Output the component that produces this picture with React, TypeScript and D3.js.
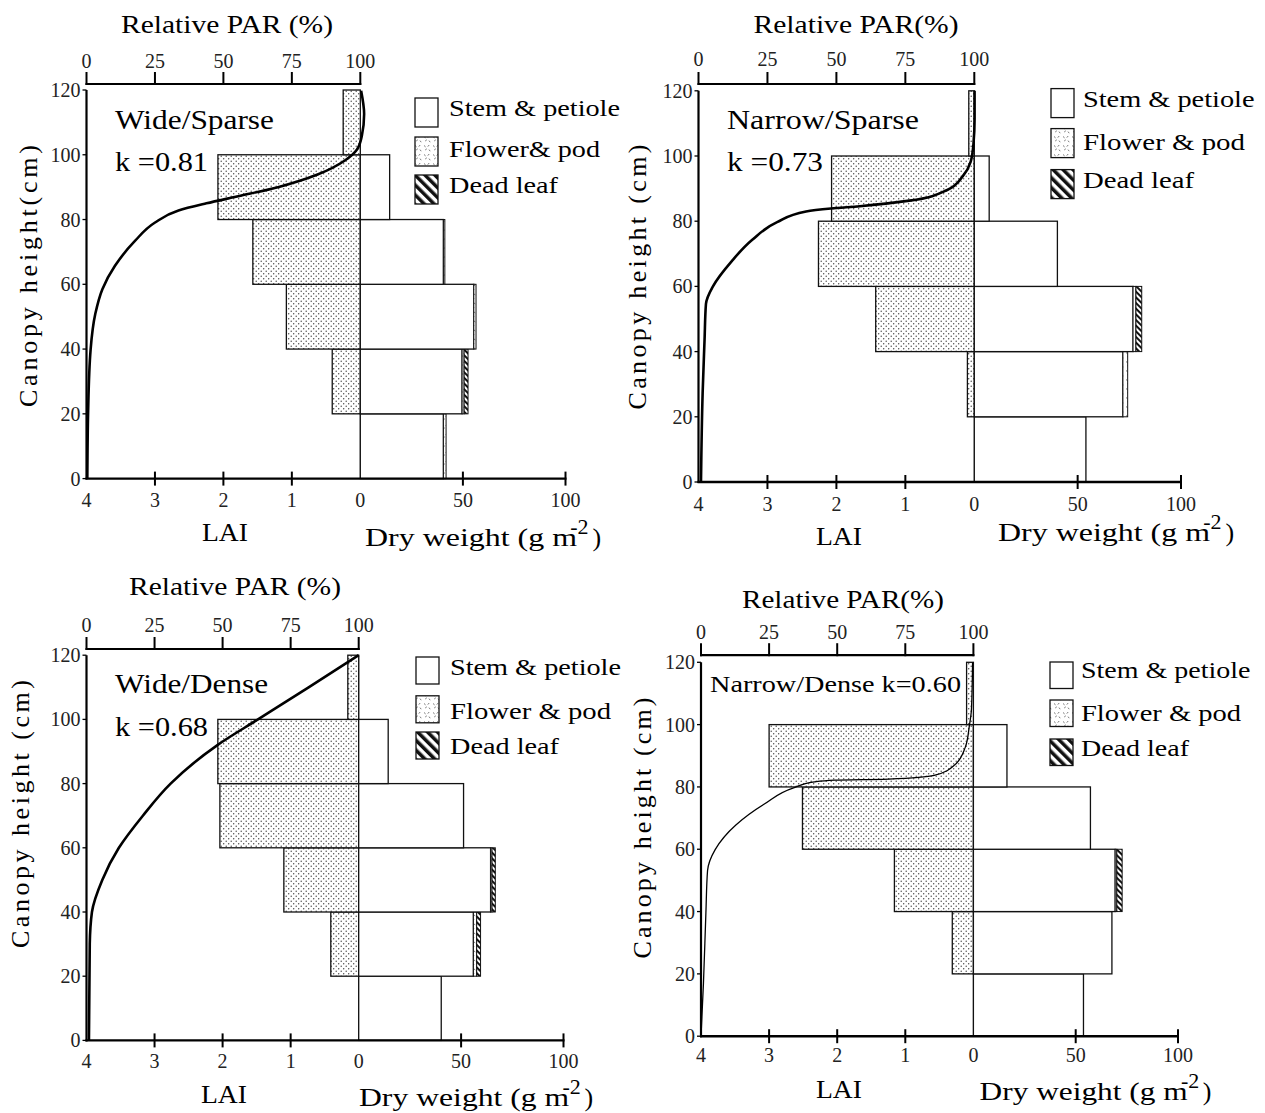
import React from "react";
import * as d3 from "d3";

// ---------------- data ----------------
const layerBottom = [0, 20, 40, 60, 80, 100];
const layerTop = [20, 40, 60, 80, 100, 120];
const heightTicks = [0, 20, 40, 60, 80, 100, 120];
const parTicks = [0, 25, 50, 75, 100];
const laiTicks = [4, 3, 2, 1, 0];
const dryTicks = [50, 100];

const treatmentNames = ["Wide/Sparse", "Narrow/Sparse", "Wide/Dense", "Narrow/Dense k=0.60"];
const kLabels = ["k =0.81", "k =0.73", "k =0.68", ""];
const parTitles = ["Relative PAR (%)", "Relative PAR(%)", "Relative PAR (%)", "Relative PAR(%)"];
const yTitles = ["Canopy height(cm)", "Canopy height (cm)", "Canopy height (cm)", "Canopy height (cm)"];
const legendLabelsA = ["Stem & petiole", "Flower& pod", "Dead leaf"];
const legendLabelsB = ["Stem & petiole", "Flower & pod", "Dead leaf"];

// LAI per layer (0-20 ... 100-120)
const laiWS = [0, 0.41, 1.08, 1.57, 2.08, 0.25];
const laiNS = [0, 0.1, 1.43, 2.26, 2.07, 0.08];
const laiWD = [0, 0.41, 1.1, 2.04, 2.07, 0.16];
const laiND = [0, 0.31, 1.16, 2.51, 3.0, 0.1];

// Dry weight (g m-2) per layer
const stemWS = [40.5, 49.6, 55.3, 40.5, 14.3, 0];
const flowerWS = [1.3, 1.0, 1.1, 0.7, 0, 0];
const deadWS = [0, 1.9, 0, 0, 0, 0];

const stemNS = [54.0, 71.9, 76.8, 40.2, 7.2, 0];
const flowerNS = [0, 2.3, 1.4, 0, 0, 0];
const deadNS = [0, 0, 2.8, 0, 0, 0];

const stemWD = [40.3, 56.0, 64.4, 51.2, 14.4, 0];
const flowerWD = [0, 1.6, 0.7, 0, 0, 0];
const deadWD = [0, 1.9, 1.6, 0, 0, 0];

const stemND = [53.8, 67.7, 69.3, 57.2, 16.4, 0];
const flowerND = [0, 0, 0.8, 0, 0, 0];
const deadND = [0, 0, 2.6, 0, 0, 0];

// Relative PAR profiles (height cm, PAR %)
const parHeightWS = [119.8, 112.6, 106, 101.6, 98.3, 93.9, 90.0, 87.2, 85.0, 82.8, 79.0, 73.4, 65.7, 58.5, 50.8, 39.8, 21, 0];
const parValueWS = [100.3, 101.4, 100.6, 98.8, 94.5, 84.4, 69.9, 55.4, 43.8, 33.6, 24.9, 17.7, 10.4, 5.8, 3.2, 1.5, 0.6, 0.3];

const parHeightNS = [120, 111.4, 103.7, 98.3, 93.9, 89.5, 86.3, 84.6, 83.9, 83.0, 79.7, 74.3, 67.7, 60.1, 54.6, 43.7, 27.3, 0];
const parValueNS = [100.1, 100.1, 99.7, 98.7, 95.9, 90.0, 76.5, 58.5, 48.0, 39.0, 28.5, 19.5, 12.0, 5.3, 2.7, 2.2, 1.5, 0.9];

const parHeightWD = [120, 110, 100, 92, 80, 70, 60, 50, 40, 30, 0];
const parValueWD = [100, 81.6, 63, 48.1, 30.9, 20.7, 11.9, 5.8, 2.0, 1.2, 0.9];

const parHeightND = [120, 105.1, 99.5, 92.7, 87.1, 83.7, 82.5, 82.2, 81.6, 79.7, 74.6, 67.8, 59.9, 53.1, 39.6, 17.0, 0];
const parValueND = [99.7, 99.3, 98.5, 97.0, 93.2, 85.6, 68.9, 49.2, 41.6, 34.0, 23.4, 12.8, 5.2, 2.4, 1.8, 0.9, 0];

// ---------------- layout (positions only) ----------------
const LAYOUTS = [
  {
    left: 86.5, zero: 360.3, right: 565.5, y0: 478.6, y120: 90, topAxis: 84,
    titleX: 227, titleY: 33, titleW: 212, topLabelY: 68, bottomLabelY: 507,
    laiX: 225, laiY: 541, dryX: 365, dryY: 546, dryW: 242,
    yTitleX: 28, yTitleY: 276, yTitleW: 262,
    nameX: 115, nameY: 129, nameW: 159, kY: 171, kW: 93, nameSize: 27,
    legBoxX: 415, legBoxY: [98, 137, 175], legBoxH: 29, legTextX: 449, legTextY: [116, 157, 193], legW: [171, 151, 109],
    parWidth: 2.6,
  },
  {
    left: 698.5, zero: 974.3, right: 1181, y0: 482, y120: 90.8, topAxis: 84,
    titleX: 856, titleY: 33, titleW: 205, topLabelY: 66, bottomLabelY: 511,
    laiX: 839, laiY: 545, dryX: 998, dryY: 541, dryW: 242,
    yTitleX: 636.5, yTitleY: 277, yTitleW: 265,
    nameX: 727, nameY: 129, nameW: 192, kY: 171, kW: 96, nameSize: 27,
    legBoxX: 1051, legBoxY: [88.6, 128.6, 169.6], legBoxH: 29, legTextX: 1083, legTextY: [107, 150, 187.5], legW: [171.5, 162, 111],
    parWidth: 2.6,
  },
  {
    left: 86.5, zero: 358.7, right: 563.5, y0: 1040.4, y120: 655.2, topAxis: 649,
    titleX: 235, titleY: 595, titleW: 212, topLabelY: 632, bottomLabelY: 1068,
    laiX: 224, laiY: 1103, dryX: 359, dryY: 1106, dryW: 240,
    yTitleX: 20, yTitleY: 814, yTitleW: 268,
    nameX: 115, nameY: 693, nameW: 153, kY: 736, kW: 93, nameSize: 27,
    legBoxX: 416, legBoxY: [657, 695.8, 732], legBoxH: 27, legTextX: 450, legTextY: [674.6, 718.7, 754], legW: [171, 161, 109],
    parWidth: 2.6,
  },
  {
    left: 701, zero: 973.4, right: 1178, y0: 1036.2, y120: 662.3, topAxis: 655.2,
    titleX: 843, titleY: 607.6, titleW: 202, topLabelY: 639, bottomLabelY: 1062,
    laiX: 839, laiY: 1098, dryX: 979.6, dryY: 1099.7, dryW: 237.5,
    yTitleX: 642, yTitleY: 828, yTitleW: 261,
    nameX: 710, nameY: 692, nameW: 251, kY: 0, kW: 0, nameSize: 24,
    legBoxX: 1050, legBoxY: [662, 700, 739], legBoxH: 26.5, legTextX: 1081, legTextY: [678, 720.5, 755.8], legW: [169.5, 160, 108],
    parWidth: 1.3,
  },
];

const PANEL_DATA = [
  { lai: laiWS, stem: stemWS, flower: flowerWS, dead: deadWS, parH: parHeightWS, parV: parValueWS, legend: legendLabelsA },
  { lai: laiNS, stem: stemNS, flower: flowerNS, dead: deadNS, parH: parHeightNS, parV: parValueNS, legend: legendLabelsB },
  { lai: laiWD, stem: stemWD, flower: flowerWD, dead: deadWD, parH: parHeightWD, parV: parValueWD, legend: legendLabelsB },
  { lai: laiND, stem: stemND, flower: flowerND, dead: deadND, parH: parHeightND, parV: parValueND, legend: legendLabelsB },
];

const SERIF = "'Liberation Serif', 'DejaVu Serif', serif";

function Panel({ idx }: { idx: number }) {
  const L = LAYOUTS[idx];
  const D = PANEL_DATA[idx];
  const y = d3.scaleLinear().domain([0, 120]).range([L.y0, L.y120]);
  const xLai = d3.scaleLinear().domain([0, 4]).range([L.zero, L.left]);
  const xDry = d3.scaleLinear().domain([0, 100]).range([L.zero, L.right]);
  const xPar = d3.scaleLinear().domain([0, 100]).range([L.left, L.zero]);

  const pts = D.parH.map((h, i) => [D.parV[i], h] as [number, number]);
  const line = d3
    .line<[number, number]>()
    .x((d) => xPar(d[0]))
    .y((d) => y(d[1]))
    .curve(d3.curveMonotoneY);

  const barStroke = "#111";
  const sw = 1.3;

  return (
    <g>
      {/* zero line */}
      <line x1={L.zero} x2={L.zero} y1={L.y0} y2={L.y120} stroke="#333" strokeWidth={1} />

      {/* LAI bars */}
      {D.lai.map((v, i) =>
        v > 0 ? (
          <rect
            key={"lai" + i}
            x={xLai(v)}
            y={y(layerTop[i])}
            width={L.zero - xLai(v)}
            height={y(layerBottom[i]) - y(layerTop[i])}
            fill="url(#dots)"
            stroke={barStroke}
            strokeWidth={sw}
          />
        ) : null
      )}

      {/* dry weight bars */}
      {D.stem.map((v, i) => {
        const yt = y(layerTop[i]);
        const hh = y(layerBottom[i]) - yt;
        const s = v;
        const f = s + D.flower[i];
        const dd = f + D.dead[i];
        return (
          <g key={"dw" + i}>
            {v > 0 && (
              <rect x={xDry(0)} y={yt} width={xDry(s) - xDry(0)} height={hh} fill="#fff" stroke={barStroke} strokeWidth={sw} />
            )}
            {D.flower[i] > 0 && (
              <rect x={xDry(s)} y={yt} width={xDry(f) - xDry(s)} height={hh} fill="url(#flower)" stroke={barStroke} strokeWidth={1} />
            )}
            {D.dead[i] > 0 && (
              <rect x={xDry(f)} y={yt} width={xDry(dd) - xDry(f)} height={hh} fill="url(#hatch)" stroke={barStroke} strokeWidth={1} />
            )}
          </g>
        );
      })}

      {/* PAR curve */}
      <path d={line(pts) || ""} fill="none" stroke="#000" strokeWidth={L.parWidth} strokeLinejoin="round" />

      {/* axes */}
      <line x1={L.left} x2={L.left} y1={L.y0 + 1} y2={L.y120} stroke="#000" strokeWidth={2.2} />
      <line x1={L.left - 1} x2={L.right + 1} y1={L.y0} y2={L.y0} stroke="#000" strokeWidth={2.4} />
      <line x1={L.left - 1} x2={L.zero + 1} y1={L.topAxis} y2={L.topAxis} stroke="#000" strokeWidth={2.2} />

      {/* left ticks & labels */}
      {heightTicks.map((t) => (
        <g key={"yt" + t}>
          <line x1={L.left - 4} x2={L.left} y1={y(t)} y2={y(t)} stroke="#000" strokeWidth={1.3} />
          <text
            x={L.left - 6}
            y={y(t)}
            dy="0.35em"
            textAnchor="end"
            fontFamily={SERIF}
            fontSize={20}
            fill="#222"
          >
            {t}
          </text>
        </g>
      ))}

      {/* bottom ticks & labels */}
      {laiTicks.map((t) => (
        <g key={"lt" + t}>
          {t !== 4 && t !== 0 && (
            <line x1={xLai(t)} x2={xLai(t)} y1={L.y0 - 7} y2={L.y0 + 7} stroke="#000" strokeWidth={2} />
          )}
          <text x={xLai(t)} y={L.bottomLabelY} textAnchor="middle" fontFamily={SERIF} fontSize={20} fill="#222">
            {t}
          </text>
        </g>
      ))}
      {dryTicks.map((t) => (
        <g key={"dt" + t}>
          <line x1={xDry(t)} x2={xDry(t)} y1={L.y0 - 7} y2={L.y0 + 7} stroke="#000" strokeWidth={2} />
          <text x={xDry(t)} y={L.bottomLabelY} textAnchor="middle" fontFamily={SERIF} fontSize={20} fill="#222">
            {t}
          </text>
        </g>
      ))}

      {/* top ticks & labels */}
      {parTicks.map((t) => (
        <g key={"pt" + t}>
          <line x1={xPar(t)} x2={xPar(t)} y1={L.topAxis - 12} y2={L.topAxis + 1} stroke="#000" strokeWidth={2} />
          <text x={xPar(t)} y={L.topLabelY} textAnchor="middle" fontFamily={SERIF} fontSize={20} fill="#222">
            {t}
          </text>
        </g>
      ))}

      {/* titles */}
      <text
        x={L.titleX - L.titleW / 2}
        y={L.titleY}
        fontFamily={SERIF}
        fontSize={25}
        textLength={L.titleW}
        lengthAdjust="spacingAndGlyphs"
      >
        {parTitles[idx]}
      </text>
      <text
        x={L.laiX - 23}
        y={L.laiY}
        fontFamily={SERIF}
        fontSize={26}
        textLength={46}
        lengthAdjust="spacingAndGlyphs"
      >
        LAI
      </text>
      <text
        x={L.dryX}
        y={L.dryY}
        fontFamily={SERIF}
        fontSize={26}
        textLength={L.dryW * 0.876}
        lengthAdjust="spacingAndGlyphs"
      >
        Dry weight (g m
      </text>
      <text x={L.dryX + L.dryW * 0.848} y={L.dryY - 12} fontFamily={SERIF} fontSize={22}>
        -2
      </text>
      <text x={L.dryX + L.dryW * 0.94} y={L.dryY} fontFamily={SERIF} fontSize={26}>
        )
      </text>
      <text
        transform={`translate(${L.yTitleX},${L.yTitleY}) rotate(-90)`}
        x={-L.yTitleW / 2}
        y={0}
        dy="0.35em"
        fontFamily={SERIF}
        fontSize={26}
        textLength={L.yTitleW}
        lengthAdjust="spacing"
      >
        {yTitles[idx]}
      </text>

      {/* treatment name & k */}
      <text
        x={L.nameX}
        y={L.nameY}
        fontFamily={SERIF}
        fontSize={L.nameSize}
        textLength={L.nameW}
        lengthAdjust="spacingAndGlyphs"
      >
        {treatmentNames[idx]}
      </text>
      {kLabels[idx] && (
        <text
          x={L.nameX}
          y={L.kY}
          fontFamily={SERIF}
          fontSize={27}
          textLength={L.kW}
          lengthAdjust="spacingAndGlyphs"
        >
          {kLabels[idx]}
        </text>
      )}

      {/* legend */}
      {D.legend.map((lab, i) => (
        <g key={"lg" + i}>
          <rect
            x={L.legBoxX}
            y={L.legBoxY[i]}
            width={23}
            height={L.legBoxH}
            fill={i === 0 ? "#fff" : i === 1 ? "url(#flower)" : "url(#hatchL)"}
            stroke="#111"
            strokeWidth={1.3}
          />
          <text
            x={L.legTextX}
            y={L.legTextY[i]}
            fontFamily={SERIF}
            fontSize={24}
            textLength={L.legW[i]}
            lengthAdjust="spacingAndGlyphs"
          >
            {lab}
          </text>
        </g>
      ))}
    </g>
  );
}

export default function App() {
  return (
    <svg
      width={1265}
      height={1113}
      viewBox="0 0 1265 1113"
      style={{ position: "absolute", left: 0, top: 0, display: "block", background: "#fff" }}
    >
      <defs>
        <pattern id="dots" patternUnits="userSpaceOnUse" width={5} height={5}>
          <rect width={5} height={5} fill="#fff" />
          <circle cx={1.2} cy={1.2} r={0.7} fill="#444" />
          <circle cx={3.7} cy={3.7} r={0.7} fill="#444" />
        </pattern>
        <pattern id="flower" patternUnits="userSpaceOnUse" width={9} height={9}>
          <rect width={9} height={9} fill="#fff" />
          <path d="M1,1.5 l1.6,1.4 M6.2,1 l-1.4,1.6 M2.2,6 l1.6,-1.2 M6,5.6 l1.2,1.6" stroke="#555" strokeWidth={0.8} />
        </pattern>
        <pattern id="hatch" patternUnits="userSpaceOnUse" width={4} height={4} patternTransform="rotate(-45)">
          <rect width={4} height={4} fill="#fff" />
          <rect width={2} height={4} fill="#111" />
        </pattern>
        <pattern id="hatchL" patternUnits="userSpaceOnUse" width={7} height={7} patternTransform="rotate(-45)">
          <rect width={7} height={7} fill="#fff" />
          <rect width={3.5} height={7} fill="#111" />
        </pattern>
      </defs>
      <rect width={1265} height={1113} fill="#fff" />
      {LAYOUTS.map((_, i) => (
        <Panel key={i} idx={i} />
      ))}
    </svg>
  );
}
